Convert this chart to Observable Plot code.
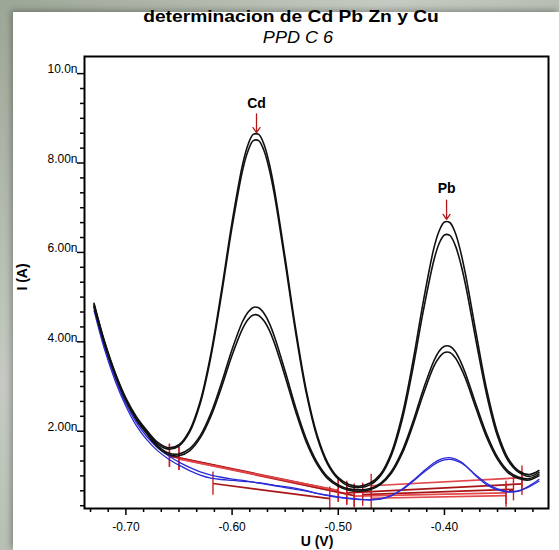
<!DOCTYPE html>
<html>
<head>
<meta charset="utf-8">
<script src="https://cdn.jsdelivr.net/npm/d3@7"></script>
<script src="https://cdn.jsdelivr.net/npm/@observablehq/plot@0.6"></script>
<style>
  html, body { margin: 0; padding: 0; }
  body {
    width: 559px; height: 550px; overflow: hidden; position: relative;
    background: linear-gradient(135deg, #9ca696 0%, #c5cbc2 35%, #aab3a6 65%, #bfc6bb 100%);
    font-family: "Liberation Sans", Arial, sans-serif;
  }
  #panel { position: absolute; left: 13px; top: 12px; right: 0; bottom: 0; background: #fff;
    box-shadow: -2px -2px 6px rgba(0,0,0,0.30); }
  #chart { position: absolute; left: 0; top: 0; }
  .t { position: absolute; text-align: center; white-space: nowrap; color: #000; }
  #title { left: 0; width: 582px; top: 7px; font-size: 17px; font-weight: bold; line-height: 20px; transform: scaleX(1.13); }
  #subtitle { left: 0; width: 596px; top: 28px; font-size: 16px; font-style: italic; line-height: 20px; transform: scaleX(1.13); }
  #xlabel { left: 0; width: 634px; top: 532px; font-size: 14px; font-weight: bold; line-height: 18px; }
  #ylabel { left: 7px; top: 268px; width: 30px; font-size: 14px; font-weight: bold; line-height: 18px; transform: rotate(-90deg); }
</style>
</head>
<body>
<div id="panel"></div>
<div id="chart"></div>
<div class="t" id="title">determinacion de Cd Pb Zn y Cu</div>
<div class="t" id="subtitle">PPD C 6</div>
<div class="t" id="xlabel">U (V)</div>
<div class="t" id="ylabel">I (A)</div>
<script>
// Potential grid (V)
const U = [-0.730, -0.720, -0.710, -0.700, -0.690, -0.680, -0.670, -0.660, -0.650, -0.640,
           -0.630, -0.620, -0.610, -0.600, -0.590, -0.585, -0.580, -0.575, -0.570, -0.565,
           -0.560, -0.550, -0.540, -0.530, -0.520, -0.510, -0.500, -0.490, -0.480, -0.470,
           -0.460, -0.450, -0.440, -0.430, -0.420, -0.410, -0.405, -0.400, -0.395, -0.390,
           -0.385, -0.380, -0.370, -0.360, -0.350, -0.340, -0.330, -0.320, -0.311];

// Currents (nA) — black scans
const blackA = [4.86, 4.00, 3.30, 2.74, 2.32, 2.01, 1.75, 1.63, 1.70, 2.02,
                2.67, 3.73, 5.14, 6.68, 7.98, 8.41, 8.64, 8.64, 8.42, 7.99,
                7.39, 5.87, 4.27, 2.90, 1.92, 1.30, 0.96, 0.81, 0.77, 0.84,
                1.05, 1.52, 2.34, 3.52, 4.89, 6.09, 6.48, 6.68, 6.67, 6.45,
                6.04, 5.49, 4.17, 2.91, 1.97, 1.39, 1.11, 1.03, 1.12];
const blackB = [4.80, 3.96, 3.27, 2.71, 2.29, 1.98, 1.71, 1.60, 1.67, 1.98,
                2.62, 3.66, 5.05, 6.57, 7.85, 8.27, 8.50, 8.50, 8.28, 7.86,
                7.27, 5.77, 4.19, 2.84, 1.87, 1.26, 0.93, 0.77, 0.74, 0.80,
                1.01, 1.46, 2.24, 3.37, 4.68, 5.82, 6.20, 6.39, 6.38, 6.17,
                5.78, 5.26, 3.99, 2.79, 1.89, 1.34, 1.08, 0.99, 1.08];
const blackC = [4.84, 3.98, 3.28, 2.71, 2.28, 1.96, 1.67, 1.51, 1.49, 1.61,
                1.90, 2.40, 3.08, 3.83, 4.46, 4.66, 4.77, 4.76, 4.64, 4.42,
                4.11, 3.34, 2.52, 1.82, 1.31, 0.98, 0.80, 0.71, 0.69, 0.72,
                0.84, 1.10, 1.55, 2.19, 2.93, 3.57, 3.79, 3.90, 3.90, 3.79,
                3.57, 3.28, 2.58, 1.92, 1.42, 1.11, 0.97, 0.94, 1.04];
const blackD = [4.78, 3.94, 3.25, 2.68, 2.25, 1.93, 1.64, 1.48, 1.45, 1.56,
                1.85, 2.33, 2.98, 3.70, 4.30, 4.50, 4.60, 4.59, 4.47, 4.26,
                3.96, 3.22, 2.43, 1.75, 1.26, 0.94, 0.77, 0.68, 0.66, 0.69,
                0.81, 1.06, 1.49, 2.11, 2.82, 3.45, 3.65, 3.76, 3.76, 3.65,
                3.44, 3.17, 2.49, 1.85, 1.37, 1.07, 0.94, 0.91, 1.00];
// Blue scans
const blueE = [4.70, 3.82, 3.12, 2.56, 2.12, 1.80, 1.56, 1.38, 1.24, 1.12,
               1.02, 0.95, 0.92, 0.90, 0.88, 0.87, 0.86, 0.85, 0.83, 0.81,
               0.79, 0.76, 0.72, 0.67, 0.61, 0.56, 0.52, 0.49, 0.47, 0.46,
               0.48, 0.56, 0.70, 0.89, 1.10, 1.29, 1.36, 1.40, 1.41, 1.38,
               1.32, 1.23, 0.99, 0.80, 0.69, 0.64, 0.66, 0.78, 0.92];
const blueF = [4.76, 3.88, 3.18, 2.62, 2.19, 1.87, 1.63, 1.45, 1.31, 1.19,
               1.09, 1.02, 0.97, 0.93, 0.90, 0.88, 0.86, 0.84, 0.82, 0.80,
               0.78, 0.74, 0.70, 0.66, 0.61, 0.57, 0.53, 0.50, 0.48, 0.47,
               0.49, 0.56, 0.69, 0.87, 1.07, 1.25, 1.32, 1.36, 1.37, 1.35,
               1.30, 1.22, 1.01, 0.83, 0.71, 0.65, 0.67, 0.76, 0.88];

// Red peak baselines (start/end points)
const baseU1 = [-0.659, -0.650, -0.659, -0.650, -0.618, -0.469, -0.477, -0.485, -0.492, -0.469];
const baseI1 = [1.45, 1.38, 1.45, 1.38, 0.83, 0.78, 0.58, 0.55, 0.62, 0.50];
const baseU2 = [-0.500, -0.492, -0.485, -0.500, -0.508, -0.327, -0.335, -0.342, -0.327, -0.342];
const baseI2 = [0.67, 0.60, 0.56, 0.67, 0.49, 0.96, 0.70, 0.62, 0.82, 0.56];

// Peak annotations
const peakNames = ["Cd", "Pb"];
const peakU = [-0.577, -0.398];
const peakLabelI = [9.33, 7.43];
const arrowFromI = [9.10, 7.17];
const arrowToI = [8.68, 6.74];

// Axis ticks
const xMajor = [-0.70, -0.60, -0.50, -0.40];
const yMajor = [2, 4, 6, 8, 10];
const xMinor = d3.range(-2, 24).filter(k => k % 6 !== 0).map(k => -0.7 + k / 60);
const yMinor = d3.range(1, 31).filter(k => k % 6 !== 0).map(k => k / 3);

const toRows = (vals, id) => U.map((u, k) => ({u, i: vals[k], id}));
const black = [...toRows(blackA, "A"), ...toRows(blackB, "B"), ...toRows(blackC, "C"), ...toRows(blackD, "D")];
const blue = [...toRows(blueE, "E"), ...toRows(blueF, "F")];
const segs = baseU1.map((u1, k) => ({u1, i1: baseI1[k], u2: baseU2[k], i2: baseI2[k], k}));
const crosses = segs.flatMap(s => [{u: s.u1, i: s.i1}, {u: s.u2, i: s.i2}]);
const peaks = peakNames.map((name, k) => ({name, u: peakU[k], li: peakLabelI[k], a1: arrowFromI[k], a2: arrowToI[k]}));

const fmtY = d => d >= 10 ? d.toFixed(1) + "n" : d.toFixed(2) + "n";
const fmtX = d => d.toFixed(2);

const chart = Plot.plot({
  width: 559, height: 550,
  marginLeft: 84, marginRight: 11, marginTop: 56, marginBottom: 42,
  x: {domain: [-0.739, -0.302], axis: null},
  y: {domain: [0.271, 10.383], axis: null},
  style: {background: "transparent", fontFamily: "'Liberation Sans', Arial, sans-serif", color: "#000", overflow: "visible"},
  marks: [
    Plot.axisX(xMinor, {tickSize: 4, tickFormat: () => "", label: null, strokeWidth: 1.5}),
    Plot.axisX(xMajor, {tickSize: 7, tickPadding: 7, tickFormat: fmtX, label: null, fontSize: 12, strokeWidth: 1.5}),
    Plot.axisY(yMinor, {tickSize: 4, tickFormat: () => "", label: null, strokeWidth: 1.5}),
    Plot.axisY(yMajor, {tickSize: 7, tickFormat: () => "", label: null, strokeWidth: 1.5}),
    Plot.text(yMajor, {y: d => d, frameAnchor: "left", text: fmtY, textAnchor: "end", dx: -7, dy: -4, fontSize: 12}),
    Plot.link(segs, {x1: "u1", y1: "i1", x2: "u2", y2: "i2", stroke: d => d.k % 2 ? "#e2474a" : "#a81517", strokeWidth: 1.7}),
    Plot.ruleX(crosses, {x: "u", y1: d => d.i - 0.26, y2: d => d.i + 0.26, stroke: "#cc1f24", strokeWidth: 1.4}),
    Plot.line(blue, {x: "u", y: "i", z: "id", stroke: "#2b2bd6", strokeWidth: 1.3, curve: "catmull-rom"}),
    Plot.line(black, {x: "u", y: "i", z: "id", stroke: "#111", strokeWidth: 1.6, curve: "catmull-rom"}),
    Plot.arrow(peaks, {x1: "u", y1: "a1", x2: "u", y2: "a2", stroke: "#b01818", strokeWidth: 1.3, headLength: 7, headAngle: 70}),
    Plot.text(peaks, {x: "u", y: "li", text: "name", fontSize: 14, fontWeight: "bold", fill: "#000"}),
    Plot.frame({stroke: "#000", strokeWidth: 2})
  ]
});
document.getElementById("chart").appendChild(chart);
</script>
</body>
</html>
